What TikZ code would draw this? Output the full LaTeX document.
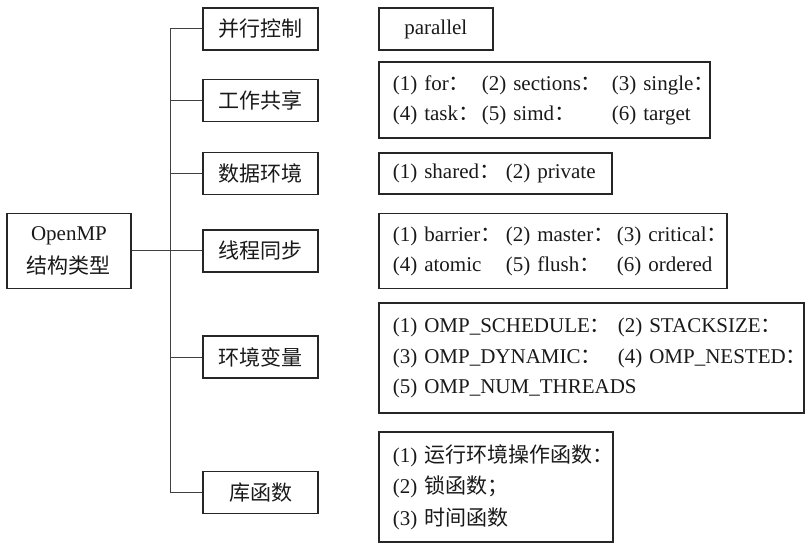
\documentclass[tikz,border=0pt]{standalone}
\usepackage{fontspec}
\usepackage{pgf,tikz}
\usetikzlibrary{shapes,arrows,positioning}
\setmainfont{Liberation Serif}
\newfontfamily\zhfont{Noto Sans CJK SC}
\newcommand{\zh}[1]{{\zhfont #1}}
\newcommand{\col}[2]{\makebox[#1][l]{#2}}
\tikzstyle{raiz} = [draw=black!85, line width=1.6pt, rectangle, minimum width=124pt, minimum height=75pt, align=center, font=\fontsize{21}{33}\selectfont]
\tikzstyle{categoria} = [draw=black!85, line width=1.6pt, rectangle, minimum width=115pt, minimum height=42pt, font=\fontsize{21}{24}\selectfont]
\tikzstyle{lista} = [draw=black!85, line width=1.6pt, rectangle, anchor=west, inner xsep=14pt, inner ysep=0pt, align=left, font=\fontsize{21}{30}\selectfont]
\tikzstyle{rama} = [draw=black!75, line width=1pt]

\begin{document}
\begin{tikzpicture}[x=1pt, y=-1pt, text=black!90]
	\useasboundingbox (0,0) rectangle (811,553);
	\node [raiz] (openmp) at (69,251) {OpenMP\\\zh{结构类型}};
	% categorias
	\node [categoria] (control) at (260.5,29) {\zh{并行控制}};
	\node [categoria] (share) at (260.5,100.5) {\zh{工作共享}};
	\node [categoria] (data) at (260.5,173.5) {\zh{数据环境}};
	\node [categoria] (sync) at (260.5,251) {\zh{线程同步}};
	\node [categoria] (envvar) at (260.5,357) {\zh{环境变量}};
	\node [categoria] (lib) at (260.5,492.5) {\zh{库函数}};
	% contenidos
	\node [lista, text width=86pt, align=center, minimum height=42pt] (controlitems) at (378,29) {parallel};
	\node [lista, text width=303pt, minimum height=76pt] (shareitems) at (378,100) {%
		\mbox{\col{89pt}{(1) for\zh{：}}\col{130pt}{(2) sections\zh{：}}(3) single\zh{：}}\\
		\mbox{\col{89pt}{(4) task\zh{：}}\col{130pt}{(5) simd\zh{：}}(6) target}};
	\node [lista, text width=205pt, minimum height=41pt] (dataitems) at (378,173.5) {%
		\mbox{\col{113pt}{(1) shared\zh{：}}(2) private}};
	\node [lista, text width=320pt, minimum height=75pt] (syncitems) at (378,251) {%
		\mbox{\col{113pt}{(1) barrier\zh{：}}\col{111pt}{(2) master\zh{：}}(3) critical\zh{：}}\\
		\mbox{\col{113pt}{(4) atomic}\col{111pt}{(5) flush\zh{：}}(6) ordered}};
	\node [lista, text width=397pt, minimum height=110pt, font=\fontsize{21}{30.5}\selectfont] (envvaritems) at (378,358) {%
		\mbox{\col{225pt}{(1) OMP\_SCHEDULE\zh{：}}(2) STACKSIZE\zh{：}}\\
		\mbox{\col{225pt}{(3) OMP\_DYNAMIC\zh{：}}(4) OMP\_NESTED\zh{：}}\\
		\mbox{(5) OMP\_NUM\_THREADS}};
	\node [lista, text width=206pt, minimum height=110pt, font=\fontsize{21}{31.5}\selectfont] (libitems) at (378,487) {%
		\mbox{(1) \zh{运行环境操作函数：}}\\
		(2) \zh{锁函数；}\\
		(3) \zh{时间函数}};
	% lineas
	\coordinate (tronco) at (170,0);
	\draw [rama] (control.west) -- (control.west -| tronco) -- (lib.west -| tronco) -- (lib.west);
	\draw [rama] (share.west) -- (share.west -| tronco);
	\draw [rama] (data.west) -- (data.west -| tronco);
	\draw [rama] (envvar.west) -- (envvar.west -| tronco);
	\draw [rama] (openmp) -- (sync);
\end{tikzpicture}
\end{document}
